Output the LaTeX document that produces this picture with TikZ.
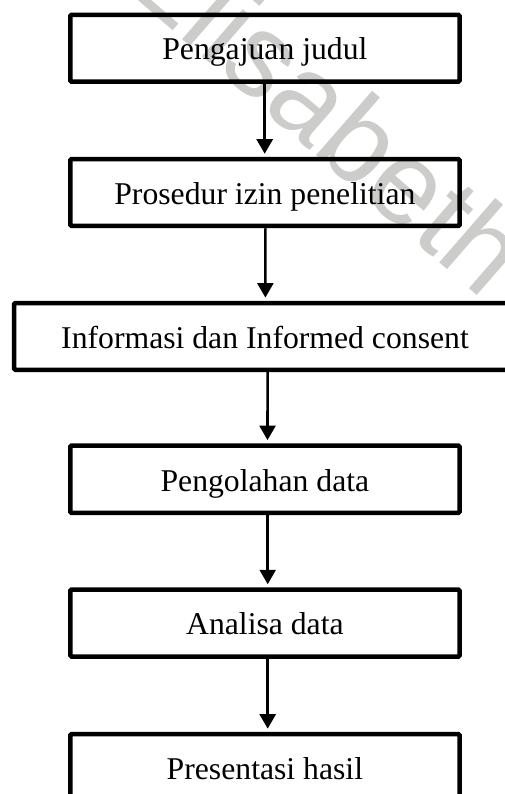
\documentclass[tikz,border=0pt]{standalone}
\usepackage{fontspec}
\setmainfont{Liberation Serif}
\newfontfamily\wmfont{Liberation Sans}
\usetikzlibrary{arrows.meta}
\definecolor{wmgray}{RGB}{204,204,202}
\begin{document}
\begin{tikzpicture}[x=1pt,y=-1pt,
  stepbox/.style={draw, line width=4.5pt, rounded corners=1.2pt, inner sep=0pt,
    minimum width=389.3pt, minimum height=66.8pt,
    text height=23.6pt, text depth=0pt,
    font=\fontsize{31.7}{38}\selectfont},
  arr/.style={line width=2.6pt, -{Triangle[width=16pt,length=14.5pt]}, shorten >=3.2pt},
  wm/.style={text=wmgray, font=\wmfont\fontsize{118}{124}\selectfont, rotate=-41, inner sep=0pt}]
\useasboundingbox (0,0) rectangle (505,794);
\clip (0,0) rectangle (505,794);
\node[wm] (wm) at (328,110) {Elisabeth};
\node[stepbox] (b1) at (264.9,48.2) {Pengajuan judul};
\node[stepbox] (b2) at (264.9,192.6) {Prosedur izin penelitian};
\node[stepbox, minimum width=501.6pt] (b3) at (265,336.4) {Informasi dan Informed consent};
\node[stepbox, minimum height=67.3pt] (b4) at (264.9,479.2) {Pengolahan data};
\node[stepbox] (b5) at (264.9,623.1) {Analisa data};
\node[stepbox] (b6) at (264.9,767.5) {Presentasi hasil};
\draw[arr] ([xshift=-0.2pt]b1.south) -- ([xshift=-0.2pt]b2.north);
\draw[arr] ([xshift=0.4pt]b2.south) -- ([xshift=0.4pt]b3.north);
\draw[arr] ([xshift=2.6pt]b3.south) -- ([xshift=2.6pt]b4.north);
\draw[arr] ([xshift=2.8pt]b4.south) -- ([xshift=2.8pt]b5.north);
\draw[arr] ([xshift=2.8pt]b5.south) -- ([xshift=2.8pt]b6.north);
\end{tikzpicture}
\end{document}
